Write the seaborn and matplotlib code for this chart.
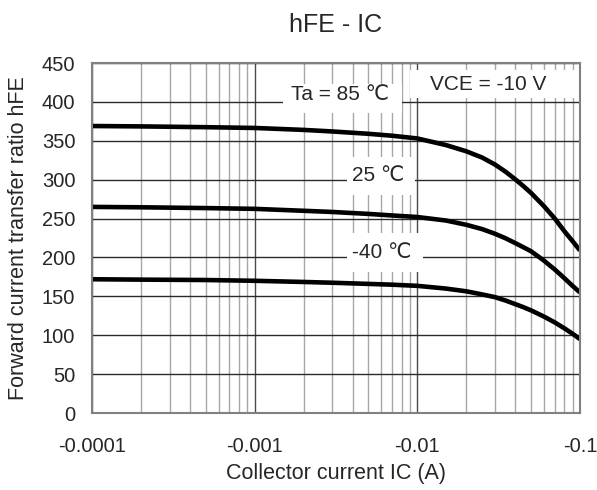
import numpy as np
import pandas as pd
import matplotlib.pyplot as plt
import seaborn as sns
from matplotlib.patches import Rectangle
from matplotlib.ticker import LogLocator, NullFormatter, FixedLocator

sns.set_style("white")
plt.rcParams['font.family'] = ['Liberation Sans', 'DejaVu Sans']

# collector current magnitude (A) and hFE readings
ic = [0.0001, 0.0002, 0.0005, 0.001, 0.002, 0.003, 0.005, 0.007, 0.01,
      0.015, 0.02, 0.025, 0.03, 0.035, 0.04, 0.045, 0.05, 0.06, 0.07,
      0.08, 0.09, 0.1]
hfe_85 = [369, 368.5, 367.5, 366.5, 364, 362, 359, 356.5, 353,
          344.5, 336.5, 328.5, 319.5, 310, 300.5, 291.5, 283, 266, 250,
          234, 221, 209]
hfe_25 = [265, 264.5, 263.5, 262.5, 260, 258.5, 256, 254, 252,
          247.5, 242, 236.5, 230.5, 224.5, 218.5, 213, 208, 196, 184.5,
          173.5, 163.5, 155]
hfe_m40 = [172, 171.5, 171, 170, 168.5, 167.5, 166, 165, 163.5,
           160, 156.5, 152.5, 149, 144.5, 140, 136, 132, 124, 116.5,
           109, 102, 95]
temps = ['85', '25', '-40']
xticks = [0.0001, 0.001, 0.01, 0.1]
xtick_labels = ['-0.0001', '-0.001', '-0.01', '-0.1']

df = pd.DataFrame({
    'ic': ic * 3,
    'hfe': hfe_85 + hfe_25 + hfe_m40,
    'temp': [t for t in temps for _ in ic],
})

fig = plt.figure(figsize=(5.97, 4.90), dpi=100)
ax = fig.add_axes([0.1541, 0.1571, 0.8174, 0.7143])

ax.set_xscale('log')
ax.set_xlim(0.0001, 0.1)
ax.set_ylim(0, 450)

# grid
ax.xaxis.set_minor_locator(LogLocator(base=10, subs=np.arange(2, 10)))
ax.xaxis.set_minor_formatter(NullFormatter())
ax.grid(which='minor', axis='x', color='#a8a8a8', lw=1.0)
ax.grid(which='major', axis='x', color='#4a4a4a', lw=1.0)
ax.grid(which='major', axis='y', color='#2a2a2a', lw=1.0)
ax.set_axisbelow(True)

sns.lineplot(data=df, x='ic', y='hfe', units='temp', estimator=None,
             color='black', lw=3.3, ax=ax, sort=True, zorder=3,
             solid_joinstyle='round', solid_capstyle='butt')

ax.xaxis.set_major_locator(FixedLocator(xticks))
ax.set_xticklabels(xtick_labels)
ax.set_yticks(range(0, 451, 50))
ax.tick_params(axis='x', labelsize=14.5, length=0, pad=17)
ax.tick_params(axis='y', labelsize=14.5, length=0, pad=12)

for s in ax.spines.values():
    s.set_color('#808080')
    s.set_linewidth(1.5)
    s.set_zorder(4)

# white label boxes (axes fraction)
boxes = [(0.391, 0.857, 0.244, 0.083),
         (0.652, 0.900, 0.344, 0.080),
         (0.523, 0.623, 0.139, 0.109),
         (0.523, 0.403, 0.156, 0.111)]
for x0, y0, w, h in boxes:
    ax.add_patch(Rectangle((x0, y0), w, h, transform=ax.transAxes,
                           facecolor='white', edgecolor='none', zorder=2))

ax.text(0.00334, 410, 'Ta = 85 \u2103', fontsize=15, ha='center', va='center', zorder=5)
ax.text(0.0272, 423, 'VCE = -10 V', fontsize=15, ha='center', va='center', zorder=5)
ax.text(0.00573, 306, '25 \u2103', fontsize=15, ha='center', va='center', zorder=5)
ax.text(0.00606, 207, '-40 \u2103', fontsize=15, ha='center', va='center', zorder=5)

ax.set_title('hFE - IC', fontsize=18, pad=22)
ax.set_xlabel('Collector current IC (A)', fontsize=15.5, labelpad=5)
ax.set_ylabel('Forward current transfer ratio hFE', fontsize=15.5, labelpad=9)

fig.savefig('out.png', dpi=100)
